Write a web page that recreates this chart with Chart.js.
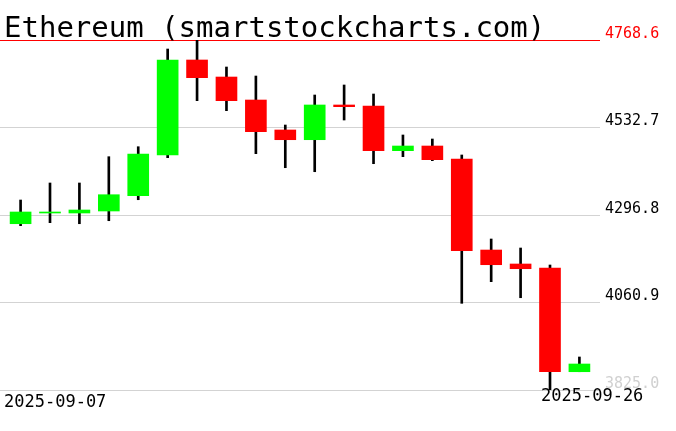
<!DOCTYPE html>
<html>
<head>
<meta charset="utf-8">
<script src="https://cdn.jsdelivr.net/npm/chart.js@4"></script>
<style>
  html, body { margin: 0; padding: 0; background: #fff; }
  canvas { display: block; }
</style>
</head>
<body>
<canvas id="chart" width="676" height="431"></canvas>
<script>
const titleText = 'Ethereum (smartstockcharts.com)';

// --- daily candles ---
const dates = ['2025-09-07','2025-09-08','2025-09-09','2025-09-10','2025-09-11','2025-09-12','2025-09-13',
  '2025-09-14','2025-09-15','2025-09-16','2025-09-17','2025-09-18','2025-09-19','2025-09-20',
  '2025-09-21','2025-09-22','2025-09-23','2025-09-24','2025-09-25','2025-09-26'];
const opens  = [4273.3, 4302.2, 4302.2, 4307.6, 4348.8, 4458.6, 4714.7, 4668.8, 4606.8, 4526.0,
  4499.8, 4593.4, 4590.7, 4470.2, 4482.8, 4447.8, 4202.4, 4164.7, 4153.9, 3874.3];
const highs  = [4337.2, 4383.1, 4383.1, 4454.0, 4480.9, 4744.3, 4768.6, 4695.8, 4671.5, 4539.4,
  4620.3, 4647.3, 4623.0, 4512.5, 4501.7, 4458.6, 4232.1, 4207.8, 4162.0, 3914.0];
const lows   = [4268.0, 4276.1, 4273.3, 4281.4, 4338.0, 4451.3, 4605.0, 4578.0, 4462.1, 4424.3,
  4413.5, 4552.9, 4435.1, 4454.0, 4443.2, 4058.7, 4117.0, 4073.8, 3825.0, 3874.3];
const closes = [4304.9, 4304.9, 4310.3, 4351.5, 4461.3, 4714.7, 4667.0, 4605.0, 4521.4, 4499.8,
  4593.4, 4588.8, 4470.2, 4482.8, 4445.9, 4200.6, 4162.8, 4152.0, 3874.3, 3895.1];

// price axis
const yTicks = [3825.0, 4060.9, 4296.8, 4532.7, 4768.6];

const UP = '#00ff00', DOWN = '#ff0000';
const MONO = '"DejaVu Sans Mono", monospace';

// title + first/last date, drawn on the canvas
const textPlugin = {
  id: 'texts',
  afterDraw(chart) {
    const ctx = chart.ctx;
    ctx.save();
    ctx.fillStyle = '#000';
    ctx.textBaseline = 'alphabetic';
    ctx.textAlign = 'left';
    ctx.font = '29px ' + MONO;
    ctx.fillText(titleText, 4, 37);
    ctx.font = '17px ' + MONO;
    ctx.fillText(dates[0], 4, 407);
    ctx.fillText(dates[dates.length - 1], 541, 401);
    ctx.restore();
  }
};

new Chart(document.getElementById('chart'), {
  type: 'bar',
  data: {
    datasets: [
      {
        label: 'body',
        data: dates.map((d, i) => ({ x: i, y: [opens[i], closes[i]] })),
        backgroundColor: dates.map((d, i) => closes[i] >= opens[i] ? UP : DOWN),
        barThickness: 21,
        grouped: false,
        order: 1
      },
      {
        label: 'wick',
        data: dates.map((d, i) => ({ x: i, y: [lows[i], highs[i]] })),
        backgroundColor: '#000',
        barThickness: 2,
        grouped: false,
        order: 2
      }
    ]
  },
  options: {
    responsive: false,
    animation: false,
    devicePixelRatio: 1,
    layout: { padding: { top: 40, left: 0, right: 0, bottom: 0 } },
    plugins: { legend: { display: false }, tooltip: { enabled: false } },
    scales: {
      x: {
        type: 'linear',
        min: -0.7,
        max: 19.7,
        offset: false,
        grid: { display: false },
        border: { display: false },
        ticks: { display: false },
        afterFit: s => { s.height = 41; }
      },
      y: {
        position: 'right',
        min: yTicks[0],
        max: yTicks[yTicks.length - 1],
        afterBuildTicks: s => { s.ticks = yTicks.map(v => ({ value: v })); },
        afterFit: s => { s.width = 76; },
        border: { display: false },
        grid: {
          drawTicks: false,
          color: c => c.tick && c.tick.value === 4768.6 ? '#ff0000' : '#d3d3d3',
          lineWidth: 1
        },
        ticks: {
          padding: 5,
          crossAlign: 'near',
          labelOffset: -6,
          font: { family: MONO, size: 15 },
          color: c => c.tick.value === 4768.6 ? '#ff0000' : (c.tick.value === 3825.0 ? '#d0d0d0' : '#000'),
          callback: v => v.toFixed(1)
        }
      }
    }
  },
  plugins: [textPlugin]
});
</script>
</body>
</html>
